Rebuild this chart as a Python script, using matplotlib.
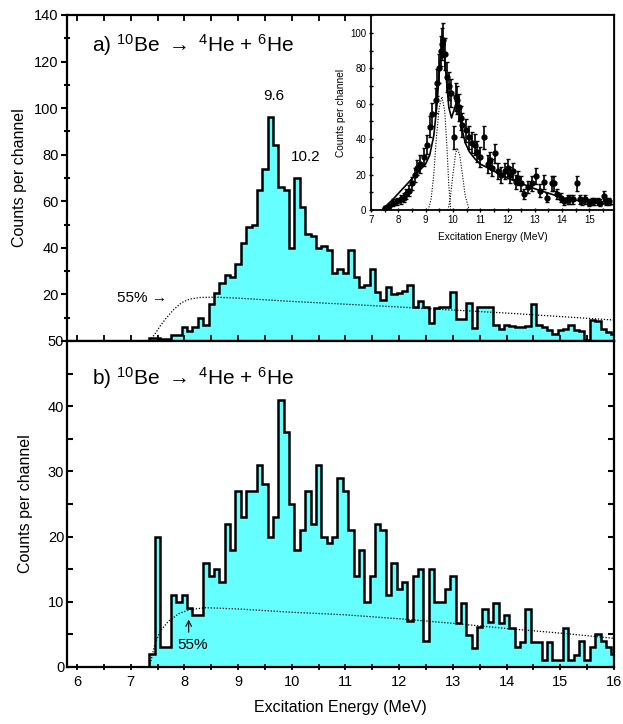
import numpy as np
import matplotlib
matplotlib.use("Agg")
import matplotlib.pyplot as plt
from matplotlib.ticker import MultipleLocator

plt.rcParams['font.family'] = ['Liberation Sans', 'DejaVu Sans']
plt.rcParams['mathtext.fontset'] = 'custom'
plt.rcParams['mathtext.rm'] = 'Liberation Sans'
plt.rcParams['mathtext.it'] = 'Liberation Sans:italic'

# ---------------- data ----------------
bin_start = 7.35     # lower edge of first channel (MeV)
bin_width = 0.1      # channel width (MeV)

# panel a) counts per channel, channels centred at 7.4 ... 16.0 MeV
counts_a = [1.5, 1.5, 1, 1, 2.4, 2.4, 6, 4.3, 6, 10,
            7, 16, 20.6, 25, 28.3, 27.5, 33, 42, 49, 50,
            65, 74, 96, 84, 66, 65, 40, 70, 57.5, 46,
            45, 40, 41, 39, 29, 31, 29, 39, 27.5, 23,
            24, 31, 21, 17.6, 23, 20, 20.6, 21.5, 24, 14.6,
            17, 14.6, 7.7, 14, 14.6, 14.6, 21, 9.4, 9.4, 16.3,
            5.4, 14.6, 14.6, 14.6, 6.9, 5, 6.9, 6.5, 6, 6,
            6.5, 16, 7, 6, 4.7, 3, 4.7, 5, 7, 4.7,
            4.5, 0.5, 9, 8.5, 5, 4, 3]

# panel b) counts per channel, same channels
counts_b = [2, 20, 3, 3, 11, 10, 11, 9, 8, 8,
            16, 14, 15, 13, 22, 18, 27, 23, 27, 27,
            31, 28, 20, 23, 41, 36, 25, 18, 21, 27,
            22, 31, 20, 19, 20, 29, 27, 21, 14, 18,
            10, 14, 22, 21, 11, 16, 12, 13, 7, 14,
            15, 4, 15, 10, 10, 12, 14, 6.7, 9.8, 4.9,
            2.9, 6.1, 8.9, 6.9, 9.8, 6.7, 8, 6, 3, 3.8,
            8.9, 3.8, 3.8, 1, 3.8, 1, 1, 6, 1, 1.8,
            4, 1, 3, 5, 4, 3, 2]

# 55 % efficiency-scaled acceptance curves
eff_E_a = [7.35, 7.45, 7.55, 7.65, 7.8, 7.95, 8.1, 8.3, 8.6, 9.0,
           10.0, 11.0, 12.0, 13.0, 14.0, 15.0, 16.0]
eff_a = [0, 3, 6.5, 9.5, 13.5, 16.5, 18, 18.7, 18.8, 18.4,
         17.0, 15.8, 14.6, 13.3, 12.0, 10.5, 9.0]
eff_E_b = [7.35, 7.45, 7.55, 7.7, 7.9, 8.1, 8.4, 9.0, 10.0, 11.0,
           12.0, 13.0, 14.0, 15.0, 16.0]
eff_b = [0, 3.5, 5.5, 7.0, 8.2, 8.8, 9.1, 8.9, 8.4, 8.0,
         7.4, 6.7, 5.9, 5.2, 4.4]

# inset: measured spectrum with errors, fit and two resonance components
ins_E = [7.5, 7.65, 7.8, 7.95, 8.1, 8.2, 8.3, 8.4, 8.5, 8.6,
         8.7, 8.8, 8.93, 9.06, 9.15, 9.25, 9.37, 9.43, 9.5, 9.55,
         9.6, 9.64, 9.7, 9.78, 9.85, 9.92, 10.04, 10.1, 10.14, 10.21,
         10.28, 10.34, 10.47, 10.59, 10.7, 10.8, 10.89, 11.0, 11.13, 11.27,
         11.35, 11.44, 11.56, 11.65, 11.75, 11.9, 12.0, 12.1, 12.2, 12.3,
         12.4, 12.5, 12.6, 12.75, 12.9, 13.03, 13.2, 13.33, 13.45, 13.63,
         13.7, 13.82, 13.95, 14.07, 14.2, 14.3, 14.4, 14.53, 14.65, 14.73,
         14.85, 14.98, 15.1, 15.16, 15.3, 15.4, 15.53, 15.6, 15.7]
ins_N = [1, 2, 4, 5, 6, 7, 9, 11, 15, 20,
         24, 26, 30, 37, 47, 54, 62, 72, 80, 90,
         94, 96, 88, 75, 70, 66, 41, 64, 62, 58,
         52, 48, 45, 41, 38, 37, 33, 30, 41, 26,
         28, 24, 32, 22, 20, 22, 24, 20, 22, 16,
         18, 15, 9, 13, 15, 19, 11, 16, 7, 15,
         15, 9, 7, 5, 6, 6, 6, 15, 6, 5,
         6, 4, 5, 5, 5, 4, 8, 5, 5]
ins_err = [1, 1.5, 2, 2, 2.5, 2.5, 3, 3, 3.5, 4,
           4.5, 5, 5, 5.5, 6, 6.5, 7, 7.5, 8, 8.5,
           9, 9.5, 9, 8.5, 8, 8, 6.5, 8, 8, 7.5,
           7, 7, 6.5, 6.5, 6, 6, 6, 5.5, 6.5, 5,
           5, 5, 5.5, 4.5, 4.5, 4.5, 5, 4.5, 4.5, 4,
           4, 4, 3, 3.5, 4, 4.5, 3.5, 4, 2.5, 4,
           4, 3, 2.5, 2, 2.5, 2.5, 2.5, 4, 2.5, 2,
           2.5, 2, 2, 2, 2, 2, 3, 2, 2]

fit_E = [7.4, 7.8, 8.1, 8.4, 8.7, 9.0, 9.15, 9.3, 9.42, 9.52,
         9.6, 9.66, 9.75, 9.85, 9.95, 10.05, 10.13, 10.2, 10.3, 10.45,
         10.6, 10.8, 11.0, 11.5, 12.0, 12.5, 13.0, 13.5, 14.0, 14.5,
         15.0, 15.5, 15.9]
fit_N = [0, 6, 11, 16, 21, 26, 31, 42, 60, 82,
         94, 92, 76, 58, 52, 57, 61, 58, 48, 38,
         33, 29, 26, 22, 18, 15, 12, 9.5, 7, 5.5,
         4.5, 3.5, 3]

comp1_E = [9.1, 9.2, 9.3, 9.4, 9.5, 9.6, 9.7, 9.78, 9.85, 9.92]
comp1_N = [0, 6, 20, 42, 58, 64, 56, 36, 14, 0]
comp2_E = [9.82, 9.9, 10.0, 10.1, 10.16, 10.25, 10.35, 10.45, 10.6]
comp2_N = [0, 6, 20, 32, 35, 31, 20, 8, 0]

# ---------------- styling ----------------
CYAN = '#66ffff'
EDGE_LW = 1.8
DOT = (0, (1, 1.4))
REACTION = r'$^{10}$Be $\rightarrow$ $^{4}$He + $^{6}$He'

edges_a = bin_start + bin_width * np.arange(len(counts_a) + 1)
edges_b = bin_start + bin_width * np.arange(len(counts_b) + 1)

W, H = 623, 724
fig = plt.figure(figsize=(W / 100, H / 100), dpi=100)
L, R = 67, 614
ax1 = fig.add_axes([L / W, 1 - 341 / H, (R - L) / W, (341 - 15) / H])
ax2 = fig.add_axes([L / W, 1 - 667 / H, (R - L) / W, (667 - 341) / H])

XMIN = 6 - 10 / 53.7
for ax in (ax1, ax2):
    ax.set_xlim(XMIN, 16)
    for s in ax.spines.values():
        s.set_linewidth(1.6)
    ax.xaxis.set_major_locator(MultipleLocator(1))
    ax.xaxis.set_minor_locator(MultipleLocator(0.5))

# panel a
ax1.stairs(counts_a, edges_a, fill=True, color=CYAN, lw=0)
ax1.stairs(counts_a, edges_a, color='black', lw=EDGE_LW)
ax1.plot(eff_E_a, eff_a, color='black', lw=0.9, ls=DOT)
ax1.set_ylim(0, 140)
ax1.set_yticks([0, 20, 40, 60, 80, 100, 120, 140])
ax1.set_yticklabels(['', '20', '40', '60', '80', '100', '120', '140'])
ax1.yaxis.set_minor_locator(MultipleLocator(10))
ax1.tick_params(axis='x', which='both', direction='in', length=4, width=1.3,
                labelbottom=False, top=True)
ax1.tick_params(axis='y', which='major', direction='out', length=4, width=1.5,
                labelsize=10.5, pad=2)
ax1.tick_params(axis='y', which='minor', direction='inout', length=4, width=1.5)
ax1.set_ylabel('Counts per channel', fontsize=11.5, labelpad=5)
ax1.text(6.28, 127, 'a) ' + REACTION, fontsize=15, va='center', ha='left')
ax1.text(9.67, 105, '9.6', fontsize=11, ha='center', va='center')
ax1.text(10.25, 79, '10.2', fontsize=11, ha='center', va='center')
ax1.text(6.74, 18.5, '55% \u2192', fontsize=11, ha='left', va='center')

# panel b
ax2.stairs(counts_b, edges_b, fill=True, color=CYAN, lw=0)
ax2.stairs(counts_b, edges_b, color='black', lw=EDGE_LW)
ax2.plot(eff_E_b, eff_b, color='black', lw=0.9, ls=DOT)
ax2.set_ylim(0, 50)
ax2.set_yticks([0, 10, 20, 30, 40, 50])
ax2.yaxis.set_minor_locator(MultipleLocator(5))
ax2.tick_params(axis='x', which='both', direction='inout', length=5, width=1.3,
                labelsize=10.5, pad=3)
ax2.tick_params(axis='y', which='major', direction='out', length=4, width=1.5,
                labelsize=10.5, pad=2)
ax2.tick_params(axis='y', which='minor', direction='inout', length=4, width=1.5)
ax2.tick_params(axis='y', which='both', right=True, direction='in')
ax2.set_ylabel('Counts per channel', fontsize=11.5, labelpad=11)
ax2.set_xlabel('Excitation Energy (MeV)', fontsize=11.5, labelpad=8)
ax2.text(6.28, 44.3, 'b) ' + REACTION, fontsize=15, va='center', ha='left')
ax2.text(7.86, 3.4, '55%', fontsize=11, ha='left', va='center')
ax2.annotate('', xy=(8.08, 7.7), xytext=(8.08, 4.9),
             arrowprops=dict(arrowstyle='->', lw=0.8, color='black'))

# inset
ins = fig.add_axes([371 / W, 1 - 210 / H, (614 - 371) / W, (210 - 15) / H])
ins.set_facecolor('white')
ins.set_xlim(7, 7 + (614 - 371) / 27.3)
ins.set_ylim(0, 195 / 1.77)
ins.plot(fit_E, fit_N, color='black', lw=1.2)
ins.plot(comp1_E, comp1_N, color='black', lw=0.8, ls=DOT)
ins.plot(comp2_E, comp2_N, color='black', lw=0.8, ls=DOT)
ins.errorbar(ins_E, ins_N, yerr=ins_err, fmt='o', ms=3.5, color='black',
             ecolor='black', elinewidth=1.2, capsize=1.5, capthick=1.0)
ins.set_xticks(range(7, 16))
ins.set_yticks([0, 20, 40, 60, 80, 100])
ins.yaxis.set_minor_locator(MultipleLocator(10))
ins.xaxis.set_minor_locator(MultipleLocator(0.5))
ins.tick_params(which='both', direction='inout', length=3, width=1.0,
                labelsize=7, pad=2)
for s in ins.spines.values():
    s.set_linewidth(1.3)
ins.set_ylabel('Counts per channel', fontsize=7.3, labelpad=3)
ins.set_xlabel('Excitation Energy (MeV)', fontsize=7.3, labelpad=5)

fig.savefig('out.png', dpi=100)
